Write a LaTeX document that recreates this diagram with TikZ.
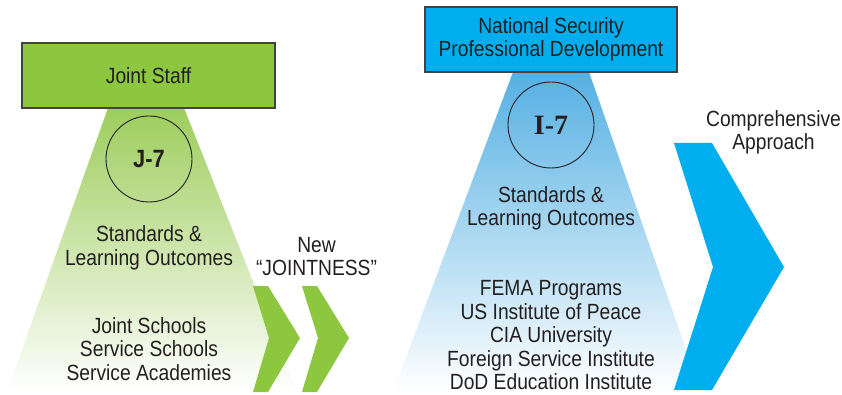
\documentclass[tikz,border=0pt]{standalone}
\usepackage{fontspec}
\setmainfont{Liberation Sans}[FakeStretch=0.875]
\newfontfamily\slabfont{Liberation Serif}
\definecolor{jgreen}{HTML}{8DC63F}
\definecolor{jgreenlt}{HTML}{9DCD5C}
\definecolor{nblue}{HTML}{00AEEF}
\definecolor{nbluelt}{HTML}{55B0E3}
\definecolor{ink}{HTML}{231F20}
\tikzset{
  box/.style = {draw=ink!85, line width=1.2pt, minimum width=#1,
                minimum height=65pt, inner sep=0pt, align=center},
  ring/.style = {circle, draw=ink, line width=0.9pt, minimum size=86pt,
                 inner sep=0pt},
  txt/.style = {anchor=north, inner sep=0pt, align=center}
}

\begin{document}
\begin{tikzpicture}[x=1pt, y=-1pt, font=\fontsize{22}{23.5}\selectfont, text=ink]
	\def \bot{392}
	\useasboundingbox (0,0) rectangle (842,395);

	% Triangles
	\shade[top color=jgreenlt, bottom color=white] (108,108) -- (184,108) -- (297,\bot) -- (7,\bot) -- cycle;
	\shade[top color=nbluelt, bottom color=white] (513,72) -- (589,72) -- (701,\bot) -- (393,\bot) -- cycle;

	% Chevrons
	\fill[jgreen] (253,286) -- (268,286) -- (300,338) -- (268,\bot) -- (253,\bot) -- (269,338) -- cycle; % 1
	\fill[jgreen] (302,286) -- (317,286) -- (349,338) -- (317,\bot) -- (302,\bot) -- (318,338) -- cycle; % 2
	\fill[nblue] (674,143) -- (712,143) -- (784,267) -- (712,390) -- (674,390) -- (713,267) -- cycle; % big

	% Boxes
	\node[box=253pt, fill=jgreen] (js) at (148.5,75.5) {Joint Staff};
	\node[box=252pt, fill=nblue] (nspd) at (551,39.5) {National Security\\Professional Development};

	% Circles
	\node[ring] (j7) at (149,159) {\fontsize{25}{25}\selectfont\bfseries J-7};
	\node[ring] (i7) at (551,125) {\slabfont\fontsize{28}{28}\selectfont\bfseries I-7};

	% Texts
	\node[txt] (jstd) at (149,225.7) {Standards \&\\Learning Outcomes};
	\node[txt] (jsch) at (149,317) {Joint Schools\\Service Schools\\Service Academies};
	\node[txt] (new) at (316.5,237) {New\\“JOINTNESS”};
	\node[txt] (istd) at (551,186) {Standards \&\\Learning Outcomes};
	\node[txt] (ilist) at (551,280.5) {FEMA Programs\\US Institute of Peace\\CIA University\\Foreign Service Institute\\DoD Education Institute};
	\node[txt] (capp) at (773.5,110) {Comprehensive\\Approach};

\end{tikzpicture}
\end{document}
